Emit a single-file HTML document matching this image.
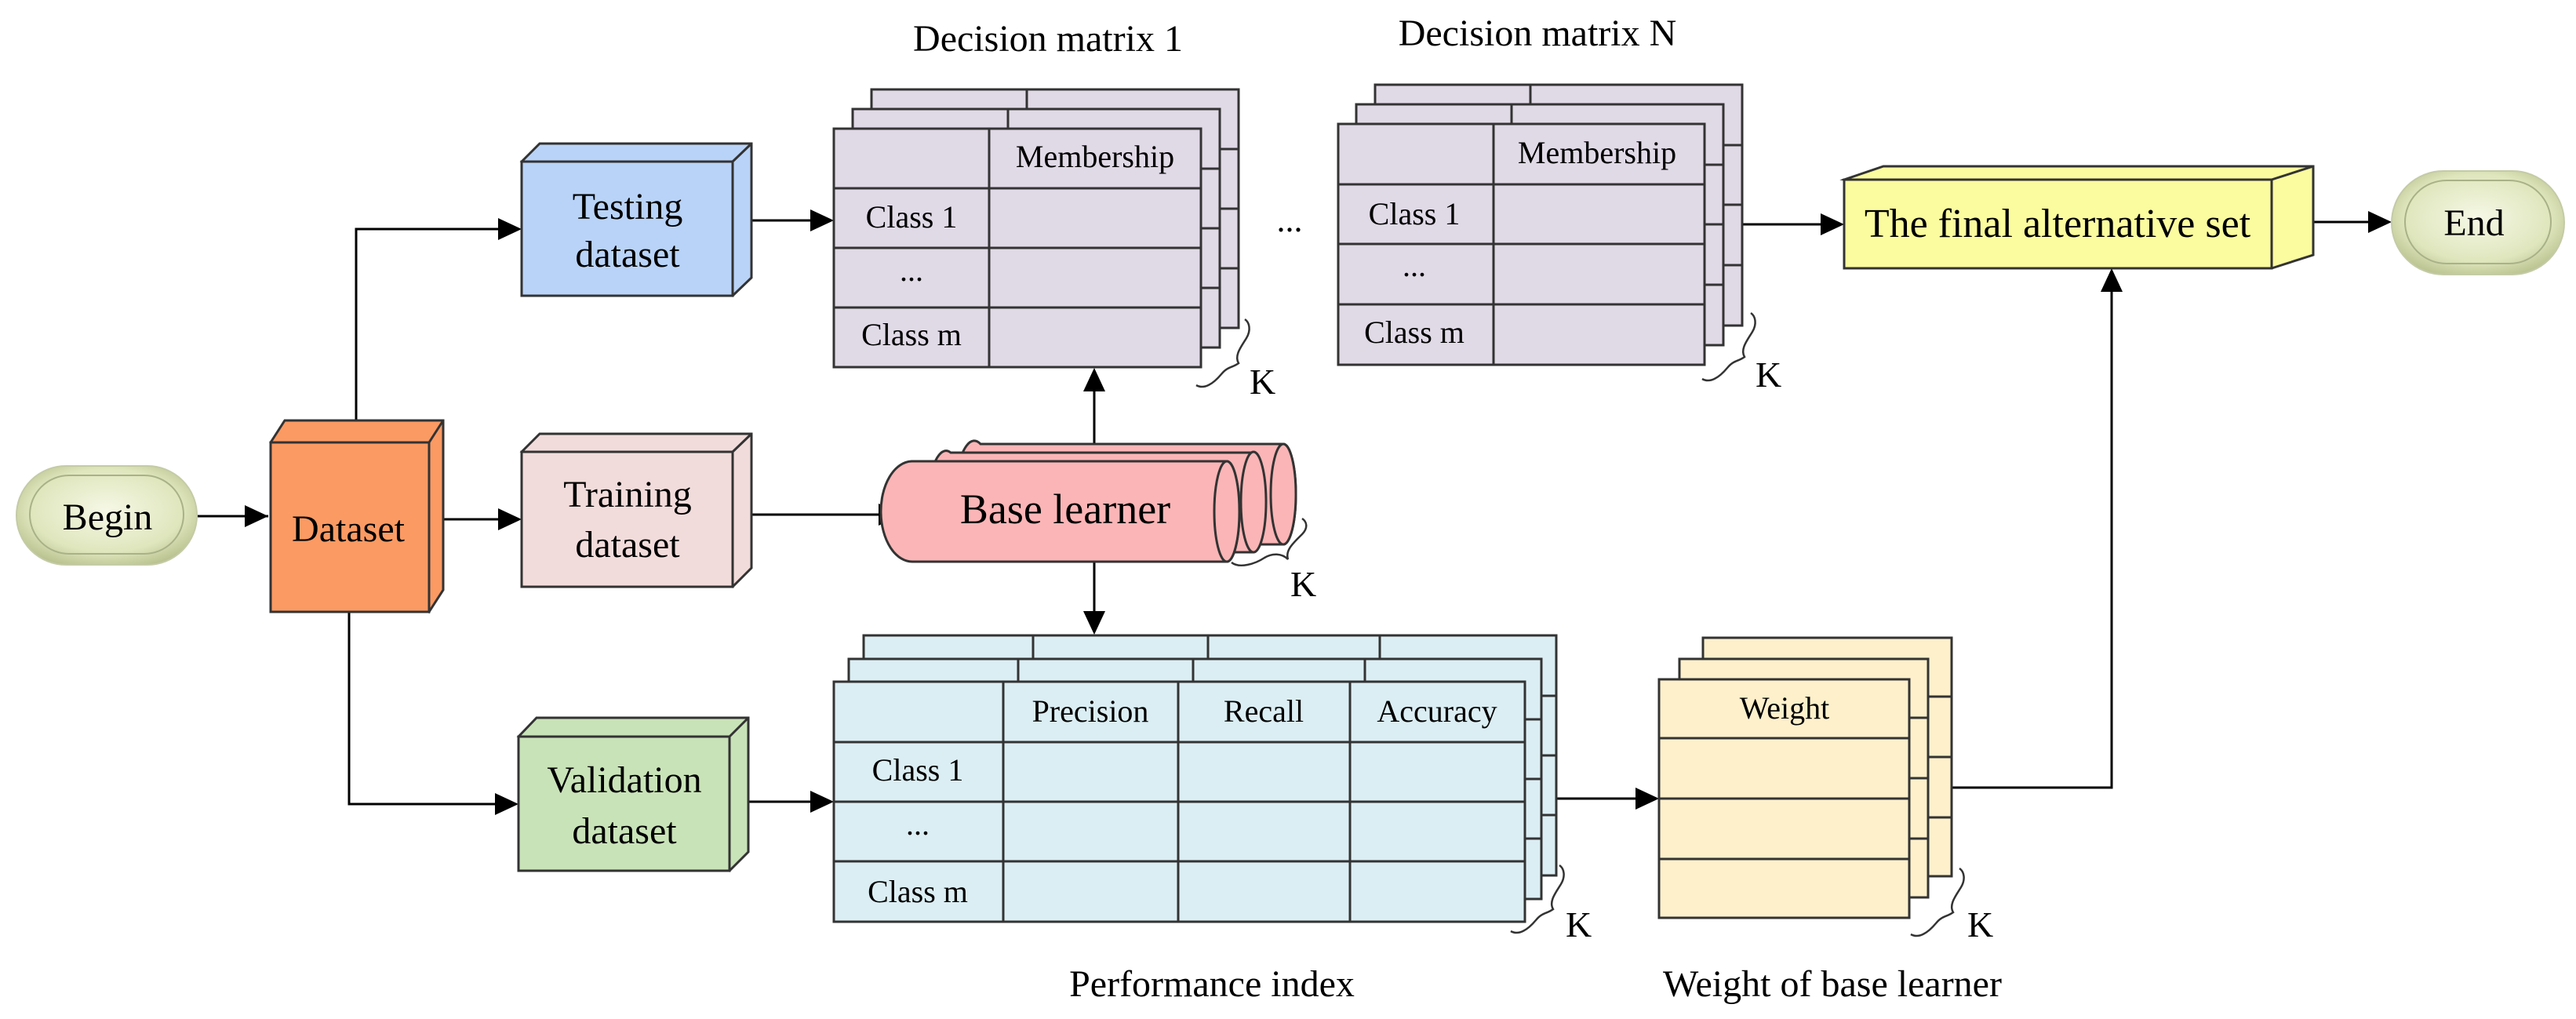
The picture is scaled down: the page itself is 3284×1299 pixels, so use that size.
<!DOCTYPE html>
<html><head><meta charset="utf-8"><style>html,body{margin:0;padding:0;background:#fff}svg{display:block}svg text{font-family:"Liberation Serif","Times New Roman",serif}</style></head>
<body>
<svg width="3284" height="1299" viewBox="0 0 3284 1299" xmlns="http://www.w3.org/2000/svg">
<defs>
<radialGradient id="pill" cx="50%" cy="45%" r="60%"><stop offset="0" stop-color="#f6f8e6"/><stop offset="0.7" stop-color="#dfe6bd"/><stop offset="1" stop-color="#b9c28f"/></radialGradient>
</defs>
<style>
.ln{stroke:#000;stroke-width:3;fill:none}
.bx{stroke:#333;stroke-width:3}
.t{font-size:48px;text-anchor:middle;fill:#000}
.c{font-size:40px;text-anchor:middle;fill:#000}
</style>

<!-- connectors -->
<g class="ln">
<line x1="252" y1="658" x2="342" y2="658" />
<line x1="565" y1="662" x2="662" y2="662" />
<polyline points="454,536 454,292 662,292" />
<polyline points="445,780 445,1025 658,1025" />
<line x1="934" y1="656" x2="1147" y2="656" />
<line x1="958" y1="281" x2="1060" y2="281" />
<line x1="954" y1="1022" x2="1060" y2="1022" />
<line x1="1395" y1="566" x2="1395" y2="472" />
<line x1="1395" y1="716" x2="1395" y2="806" />
<line x1="1969" y1="1018" x2="2112" y2="1018" />
<line x1="2221" y1="286" x2="2348" y2="286" />
<line x1="2949" y1="283" x2="3046" y2="283" />
<polyline points="2488,1004 2692,1004 2692,345" />
</g>
<g fill="#000">
<path d="M342,658 l-30,-14 v28z"/>
<path d="M665,662 l-30,-14 v28z"/>
<path d="M665,292 l-30,-14 v28z"/>
<path d="M661,1025 l-30,-14 v28z"/>
<path d="M1150,656 l-30,-14 v28z"/>
<path d="M1063,281 l-30,-14 v28z"/>
<path d="M1063,1022 l-30,-14 v28z"/>
<path d="M2115,1018 l-30,-14 v28z"/>
<path d="M2351,286 l-30,-14 v28z"/>
<path d="M3049,283 l-30,-14 v28z"/>
<path d="M1395,469 l-14,30 h28z"/>
<path d="M1395,809 l-14,-30 h28z"/>
<path d="M2692,342 l-14,30 h28z"/>
</g>

<!-- Begin / End pills -->
<rect x="21" y="594" width="230" height="126" rx="63" fill="url(#pill)" stroke="#c4cba6" stroke-width="2"/>
<rect x="38" y="606" width="196" height="100" rx="50" fill="none" stroke="#a9b188" stroke-width="2"/>
<text x="137" y="675" class="t">Begin</text>
<rect x="3049" y="218" width="220" height="132" rx="66" fill="url(#pill)" stroke="#c4cba6" stroke-width="2"/>
<rect x="3066" y="230" width="186" height="106" rx="53" fill="none" stroke="#a9b188" stroke-width="2"/>
<text x="3154" y="300" class="t">End</text>

<!-- 3D boxes -->
<g class="bx">
<path d="M345,564 l18,-28 h202 v216 l-18,28 z" fill="#fb9a63"/>
<line x1="547" y1="564" x2="565" y2="536"/>
<rect x="345" y="564" width="202" height="216" fill="#fb9a63"/>

<path d="M665,206 l23,-23 h270 v171 l-24,23 z" fill="#b9d3f8"/>
<rect x="665" y="206" width="269" height="171" fill="#b9d3f8"/><line x1="934" y1="206" x2="958" y2="183"/>

<path d="M665,576 l23,-23 h270 v171 l-24,24 z" fill="#f2dcdb"/>
<rect x="665" y="576" width="269" height="172" fill="#f2dcdb"/><line x1="934" y1="576" x2="958" y2="553"/>

<path d="M661,939 l23,-24 h270 v171 l-24,24 z" fill="#c9e3b8"/>
<rect x="661" y="939" width="269" height="171" fill="#c9e3b8"/><line x1="930" y1="939" x2="954" y2="915"/>

<path d="M2351,229 l50,-17 h548 v113 l-53,17 z" fill="#fbfb9f"/>
<rect x="2351" y="229" width="545" height="113" fill="#fbfb9f"/><line x1="2896" y1="229" x2="2949" y2="212"/>
</g>
<text x="444" y="690" class="t">Dataset</text>
<text x="800" y="279" class="t">Testing</text><text x="800" y="340" class="t">dataset</text>
<text x="800" y="646" class="t">Training</text><text x="800" y="710" class="t">dataset</text>
<text x="796" y="1010" class="t">Validation</text><text x="796" y="1075" class="t">dataset</text>
<text x="2623" y="302" class="t" style="font-size:52px">The final alternative set</text>

<!-- Base learner cylinders -->
<g stroke="#333" stroke-width="3" fill="#fbb5b6">
<path d="M1250,566 H1636 A16,64 0 0 1 1636,694 H1234 A22,64 0 0 1 1250,566 z"/>
<ellipse cx="1636" cy="630" rx="16" ry="64"/>
<path d="M1212,577 H1598 A16,64 0 0 1 1598,704 H1200 A22,64 0 0 1 1212,577 z"/>
<ellipse cx="1598" cy="640" rx="16" ry="64"/>
<path d="M1162,588 H1564 A16,64 0 0 1 1564,716 H1164 A40,64 0 0 1 1162,588 z"/>
<ellipse cx="1564" cy="652" rx="16" ry="64"/>
</g>
<text x="1358" y="667" class="t" style="font-size:54px">Base learner</text>

<!-- Decision matrix 1 -->
<g stroke="#333" stroke-width="3" fill="#e0d9e6">
<rect x="1111" y="114" width="468" height="304"/><line x1="1309" y1="114" x2="1309" y2="418"/><line x1="1111" y1="190" x2="1579" y2="190"/><line x1="1111" y1="266" x2="1579" y2="266"/><line x1="1111" y1="342" x2="1579" y2="342"/>
<rect x="1087" y="139" width="468" height="304"/><line x1="1285" y1="139" x2="1285" y2="443"/><line x1="1087" y1="215" x2="1555" y2="215"/><line x1="1087" y1="291" x2="1555" y2="291"/><line x1="1087" y1="367" x2="1555" y2="367"/>
<rect x="1063" y="164" width="468" height="304"/><line x1="1261" y1="164" x2="1261" y2="468"/><line x1="1063" y1="240" x2="1531" y2="240"/><line x1="1063" y1="316" x2="1531" y2="316"/><line x1="1063" y1="392" x2="1531" y2="392"/>
</g>
<text x="1396" y="213" class="c">Membership</text>
<text x="1162" y="290" class="c">Class 1</text>
<text x="1162" y="358" class="c">...</text>
<text x="1162" y="440" class="c">Class m</text>
<text x="1336" y="65" class="t" style="font-size:48px">Decision matrix 1</text>

<text x="1644" y="295" class="t" style="font-size:44px">...</text>

<!-- Decision matrix N -->
<g stroke="#333" stroke-width="3" fill="#e0d9e6">
<rect x="1753" y="108" width="468" height="307"/><line x1="1951" y1="108" x2="1951" y2="415"/><line x1="1753" y1="185" x2="2221" y2="185"/><line x1="1753" y1="261" x2="2221" y2="261"/><line x1="1753" y1="338" x2="2221" y2="338"/>
<rect x="1729" y="133" width="468" height="307"/><line x1="1927" y1="133" x2="1927" y2="440"/><line x1="1729" y1="210" x2="2197" y2="210"/><line x1="1729" y1="286" x2="2197" y2="286"/><line x1="1729" y1="363" x2="2197" y2="363"/>
<rect x="1706" y="158" width="467" height="307"/><line x1="1904" y1="158" x2="1904" y2="465"/><line x1="1706" y1="235" x2="2173" y2="235"/><line x1="1706" y1="311" x2="2173" y2="311"/><line x1="1706" y1="388" x2="2173" y2="388"/>
</g>
<text x="2036" y="208" class="c">Membership</text>
<text x="1803" y="286" class="c">Class 1</text>
<text x="1803" y="352" class="c">...</text>
<text x="1803" y="437" class="c">Class m</text>
<text x="1960" y="58" class="t" style="font-size:48px">Decision matrix N</text>

<!-- Performance index -->
<g stroke="#333" stroke-width="3" fill="#dbeef3">
<rect x="1101" y="810" width="883" height="306"/><line x1="1317" y1="810" x2="1317" y2="1116"/><line x1="1540" y1="810" x2="1540" y2="1116"/><line x1="1759" y1="810" x2="1759" y2="1116"/><line x1="1101" y1="887" x2="1984" y2="887"/><line x1="1101" y1="963" x2="1984" y2="963"/><line x1="1101" y1="1039" x2="1984" y2="1039"/>
<rect x="1082" y="840" width="883" height="306"/><line x1="1298" y1="840" x2="1298" y2="1146"/><line x1="1521" y1="840" x2="1521" y2="1146"/><line x1="1740" y1="840" x2="1740" y2="1146"/><line x1="1082" y1="917" x2="1965" y2="917"/><line x1="1082" y1="993" x2="1965" y2="993"/><line x1="1082" y1="1069" x2="1965" y2="1069"/>
<rect x="1063" y="869" width="881" height="306"/><line x1="1279" y1="869" x2="1279" y2="1175"/><line x1="1502" y1="869" x2="1502" y2="1175"/><line x1="1721" y1="869" x2="1721" y2="1175"/><line x1="1063" y1="946" x2="1944" y2="946"/><line x1="1063" y1="1022" x2="1944" y2="1022"/><line x1="1063" y1="1098" x2="1944" y2="1098"/>
</g>
<text x="1390" y="920" class="c">Precision</text>
<text x="1611" y="920" class="c">Recall</text>
<text x="1832" y="920" class="c">Accuracy</text>
<text x="1170" y="995" class="c">Class 1</text>
<text x="1170" y="1064" class="c">...</text>
<text x="1170" y="1150" class="c">Class m</text>
<text x="1545" y="1270" class="t" style="font-size:48px">Performance index</text>

<!-- Weight -->
<g stroke="#333" stroke-width="3" fill="#fdf0cb">
<rect x="2171" y="813" width="317" height="304"/><line x1="2171" y1="888" x2="2488" y2="888"/><line x1="2171" y1="965" x2="2488" y2="965"/><line x1="2171" y1="1042" x2="2488" y2="1042"/>
<rect x="2141" y="840" width="317" height="304"/><line x1="2141" y1="915" x2="2458" y2="915"/><line x1="2141" y1="992" x2="2458" y2="992"/><line x1="2141" y1="1069" x2="2458" y2="1069"/>
<rect x="2115" y="866" width="319" height="304"/><line x1="2115" y1="941" x2="2434" y2="941"/><line x1="2115" y1="1018" x2="2434" y2="1018"/><line x1="2115" y1="1095" x2="2434" y2="1095"/>
</g>
<text x="2275" y="916" class="c">Weight</text>
<text x="2336" y="1270" class="t" style="font-size:48px">Weight of base learner</text>

<!-- braces & K -->
<g fill="none" stroke="#333" stroke-width="2.5">
<path d="M1525,491 c10,6 22,-2 32,-14 c8,-10 14,-8 22,-14 c-6,-10 4,-22 10,-32 c6,-10 4,-20 -2,-24"/>
<path d="M2170,483 c10,6 22,-2 32,-14 c8,-10 14,-8 22,-14 c-6,-10 4,-22 10,-32 c6,-10 4,-20 -2,-24"/>
<path d="M1570,717 c10,8 30,2 42,-6 c10,-6 22,-6 30,2 c-4,-12 8,-22 18,-32 c8,-8 6,-16 0,-20"/>
<path d="M1926,1187 c10,6 22,-2 32,-14 c8,-10 14,-8 22,-14 c-6,-10 4,-22 10,-32 c6,-10 4,-20 -2,-24"/>
<path d="M2436,1191 c10,6 22,-2 32,-14 c8,-10 14,-8 22,-14 c-6,-10 4,-22 10,-32 c6,-10 4,-20 -2,-24"/>
</g>
<g fill="#000" style="font-size:46px">
<text x="1593" y="502">K</text>
<text x="2238" y="493">K</text>
<text x="1645" y="760">K</text>
<text x="1996" y="1194">K</text>
<text x="2508" y="1194">K</text>
</g>
</svg>
</body></html>
